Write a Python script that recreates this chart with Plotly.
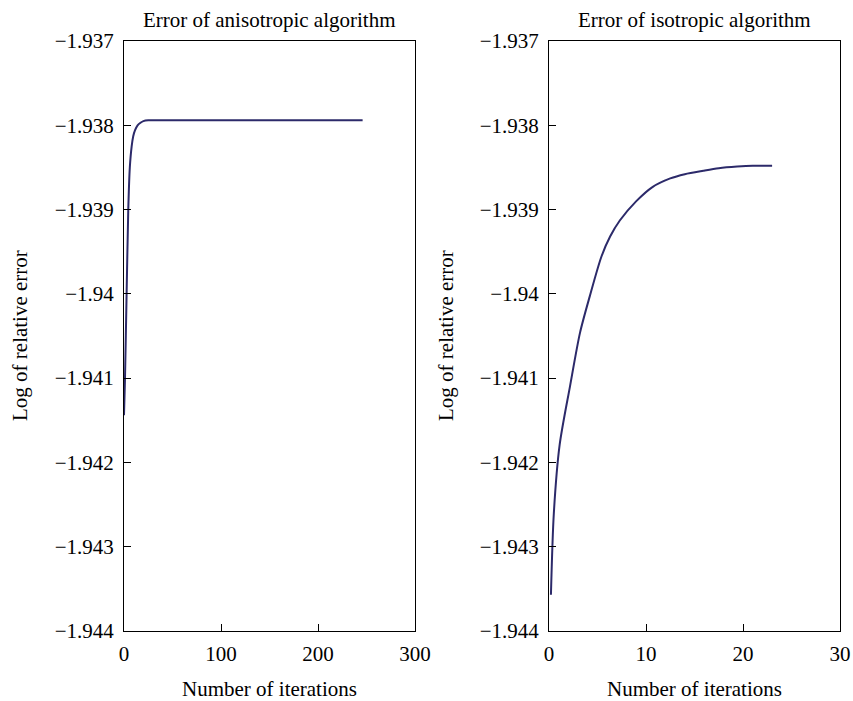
import plotly.graph_objects as go

# Anisotropic algorithm error
aniso_iter = [0, 1, 2.7, 4.4, 6, 7.9, 9.5, 11.3, 14, 17, 20, 25, 30, 50, 100, 150, 200, 246]
aniso_err = [-1.94144, -1.94102, -1.93999, -1.93900, -1.93850, -1.93825, -1.93813, -1.93806, -1.93800,
             -1.93797, -1.93795, -1.93794, -1.93794, -1.93794, -1.93794, -1.93794, -1.93794, -1.93794]

# Isotropic algorithm error
iso_iter = [0.2, 0.5, 1.1, 2.16, 3.2, 4.2, 5.4, 6.3, 7.3, 9.0, 10.7, 12.5, 14.0, 15.9, 17.5, 19.4, 21.0, 23.0]
iso_err = [-1.94357, -1.94260, -1.94179, -1.94110, -1.94046, -1.94003, -1.93956, -1.93932, -1.93913,
           -1.93890, -1.93873, -1.93863, -1.93858, -1.93854, -1.93851, -1.93849, -1.93848, -1.93848]

y_ticks = [-1.937, -1.938, -1.939, -1.94, -1.941, -1.942, -1.943, -1.944]
y_ticktext = ["\u22121.937", "\u22121.938", "\u22121.939", "\u22121.94", "\u22121.941", "\u22121.942", "\u22121.943", "\u22121.944"]
x1_ticks = [0, 100, 200, 300]
x2_ticks = [0, 10, 20, 30]

titles = ["Error of anisotropic algorithm", "Error of isotropic algorithm"]
x_title = "Number of iterations"
y_title = "Log of relative error"

FONT = "Liberation Serif"
LINE = "#2c2a6a"

fig = go.Figure()
fig.add_trace(go.Scatter(x=aniso_iter, y=aniso_err, mode="lines", line=dict(color=LINE, width=2, shape="spline", smoothing=0.6),
                         xaxis="x", yaxis="y", showlegend=False))
fig.add_trace(go.Scatter(x=iso_iter, y=iso_err, mode="lines", line=dict(color=LINE, width=2, shape="spline", smoothing=0.8),
                         xaxis="x2", yaxis="y2", showlegend=False))

W, H = 853, 701
d1 = [124 / W, 415 / W]
d2 = [549 / W, 840 / W]
yd = [1 - 631 / H, 1 - 41 / H]

axcommon = dict(showline=True, linecolor="black", linewidth=1, mirror=True, ticks="inside", ticklen=7,
                tickcolor="black", showgrid=False, zeroline=False, automargin=False,
                tickfont=dict(family=FONT, size=21, color="black"))

fig.update_layout(
    width=W, height=H, margin=dict(l=0, r=0, t=0, b=0),
    paper_bgcolor="white", plot_bgcolor="white",
    font=dict(family=FONT, color="black"),
    xaxis=dict(domain=d1, anchor="y", range=[0, 300], tickvals=x1_ticks, ticklabelstandoff=4, **axcommon),
    yaxis=dict(domain=yd, anchor="x", range=[-1.944, -1.937], tickvals=y_ticks, ticktext=y_ticktext, ticklabelstandoff=5, **axcommon),
    xaxis2=dict(domain=d2, anchor="y2", range=[0, 30], tickvals=x2_ticks, ticklabelstandoff=4, **axcommon),
    yaxis2=dict(domain=yd, anchor="x2", range=[-1.944, -1.937], tickvals=y_ticks, ticktext=y_ticktext, ticklabelstandoff=5, **axcommon),
)

ann = []
for i, (dom, t) in enumerate(zip([d1, d2], titles)):
    cx = (dom[0] + dom[1]) / 2
    ann.append(dict(text=t, x=cx, y=1 - 20 / H, xref="paper", yref="paper", showarrow=False,
                    font=dict(family=FONT, size=21, color="black"), xanchor="center", yanchor="middle"))
    ann.append(dict(text=x_title, x=cx, y=1 - 689 / H, xref="paper", yref="paper", showarrow=False,
                    font=dict(family=FONT, size=21, color="black"), xanchor="center", yanchor="middle"))
for xp in [20, 446]:
    ann.append(dict(text=y_title, x=xp / W, y=1 - 336 / H, xref="paper", yref="paper", showarrow=False, textangle=-90,
                    font=dict(family=FONT, size=21, color="black"), xanchor="center", yanchor="middle"))
fig.update_layout(annotations=ann)

fig.write_html("out.html", config={"displayModeBar": False},
               post_script="document.body.style.margin='0';document.body.style.overflow='hidden';")
